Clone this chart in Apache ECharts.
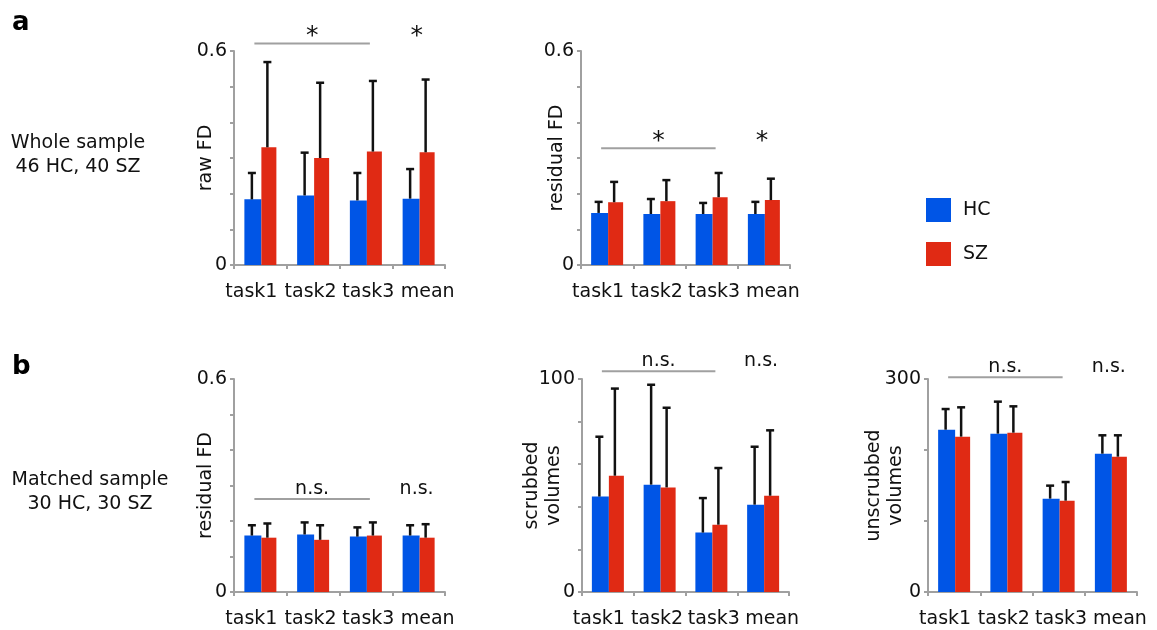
<!DOCTYPE html>
<html><head><meta charset="utf-8">
<script src="https://cdn.jsdelivr.net/npm/echarts@6/dist/echarts.min.js"></script>
<style>html,body{margin:0;padding:0;background:#fff}#c{width:1157px;height:630px}</style>
</head><body><div id="c"></div>
<script>
const categories = ['task1', 'task2', 'task3', 'mean'];

// Panel a1: raw FD (whole sample)
const rawFD_HC = [0.184, 0.195, 0.181, 0.186];
const rawFD_HC_sd = [0.074, 0.120, 0.077, 0.083];
const rawFD_SZ = [0.330, 0.300, 0.318, 0.316];
const rawFD_SZ_sd = [0.239, 0.211, 0.198, 0.204];

// Panel a2: residual FD (whole sample)
const resFDa_HC = [0.146, 0.143, 0.143, 0.143];
const resFDa_HC_sd = [0.031, 0.042, 0.031, 0.034];
const resFDa_SZ = [0.176, 0.179, 0.190, 0.182];
const resFDa_SZ_sd = [0.057, 0.059, 0.068, 0.060];

// Panel b1: residual FD (matched sample)
const resFDb_HC = [0.159, 0.162, 0.156, 0.159];
const resFDb_HC_sd = [0.029, 0.034, 0.026, 0.029];
const resFDb_SZ = [0.153, 0.147, 0.159, 0.153];
const resFDb_SZ_sd = [0.040, 0.041, 0.037, 0.038];

// Panel b2: scrubbed volumes
const scrub_HC = [44.8, 50.4, 27.9, 41.0];
const scrub_HC_sd = [28.1, 46.9, 16.2, 27.2];
const scrub_SZ = [54.6, 49.1, 31.6, 45.2];
const scrub_SZ_sd = [40.9, 37.4, 26.6, 30.7];

// Panel b3: unscrubbed volumes
const unscrub_HC = [228.6, 223.0, 131.5, 194.8];
const unscrub_HC_sd = [29.1, 45.1, 18.3, 25.9];
const unscrub_SZ = [218.8, 224.4, 128.6, 190.6];
const unscrub_SZ_sd = [41.3, 37.1, 26.3, 30.1];

// significance labels
const sigA = ['*', '*'];
const sigB = ['n.s.', 'n.s.'];

const BLUE = '#0055e6', RED = '#e02a14', GREY = '#a0a0a0', TXT = '#111';
const FONT = 'DejaVu Sans';
const FS = 19;

const panels = [
  {grid:{left:234, top:51, width:211, height:214}, max:0.6, interval:0.1, name:'raw FD', nameGap:17,
   hc:rawFD_HC, hcsd:rawFD_HC_sd, sz:rawFD_SZ, szsd:rawFD_SZ_sd, bracket:0.621, sig:sigA},
  {grid:{left:581, top:51, width:209, height:214}, max:0.6, interval:0.1, name:'residual FD', nameGap:13,
   hc:resFDa_HC, hcsd:resFDa_HC_sd, sz:resFDa_SZ, szsd:resFDa_SZ_sd, bracket:0.327, sig:sigA},
  {grid:{left:234, top:379, width:211, height:213}, max:0.6, interval:0.1, name:'residual FD', nameGap:17,
   hc:resFDb_HC, hcsd:resFDb_HC_sd, sz:resFDb_SZ, szsd:resFDb_SZ_sd, bracket:0.262, sig:sigB},
  {grid:{left:582, top:379, width:207, height:213}, max:100, interval:20, name:'scrubbed\nvolumes', nameGap:17,
   hc:scrub_HC, hcsd:scrub_HC_sd, sz:scrub_SZ, szsd:scrub_SZ_sd, bracket:103.6, sig:sigB},
  {grid:{left:928, top:379, width:209, height:213}, max:300, interval:100, name:'unscrubbed\nvolumes', nameGap:21,
   hc:unscrub_HC, hcsd:unscrub_HC_sd, sz:unscrub_SZ, szsd:unscrub_SZ_sd, bracket:302.3, sig:sigB}
];

const HCW = 17, SZW = 15;
const hcOff = -(HCW + SZW) / 2 + HCW / 2 - 1;
const szOff = -(HCW + SZW) / 2 + HCW + SZW / 2 - 1.5;

function errRender(off) {
  return function (params, api) {
    const idx = api.value(0);
    const p0 = api.coord([idx, api.value(1)]);
    const p1 = api.coord([idx, api.value(2)]);
    const x = p0[0] + off;
    const st = {stroke: '#111', lineWidth: 2.5};
    return {type: 'group', children: [
      {type: 'line', shape: {x1: x, y1: p0[1], x2: x, y2: p1[1]}, style: st},
      {type: 'line', shape: {x1: x - 4, y1: p1[1], x2: x + 4, y2: p1[1]}, style: st}
    ]};
  };
}

function annRender(sig) {
  return function (params, api) {
    const v = api.value(1);
    const a = api.coord([0, v]), b = api.coord([2, v]), c = api.coord([3, v]);
    const star = sig[0] === '*';
    const fs = star ? 25 : FS;
    const dy = star ? -7 : -10;
    const mid = (a[0] - 6 + b[0] + 4) / 2;
    return {type: 'group', children: [
      {type: 'line', shape: {x1: a[0] - 6, y1: a[1], x2: b[0] + 4, y2: b[1]}, style: {stroke: GREY, lineWidth: 2}},
      {type: 'text', style: {text: sig[0], x: mid, y: a[1] + dy, align: 'center', verticalAlign: 'middle',
        font: fs + 'px "' + FONT + '"', fill: TXT}},
      {type: 'text', style: {text: sig[1], x: c[0] - 2, y: a[1] + dy, align: 'center', verticalAlign: 'middle',
        font: fs + 'px "' + FONT + '"', fill: TXT}}
    ]};
  };
}

const labelShift = [18, 5, -5, -18];
const rich = {};
labelShift.forEach((s, i) => {
  rich['s' + i] = {fontSize: FS, fontFamily: FONT, color: TXT,
    padding: s > 0 ? [0, s, 0, 0] : [0, 0, 0, -s]};
});

const grid = [], xAxis = [], yAxis = [], series = [];
panels.forEach((p, i) => {
  grid.push(Object.assign({containLabel: false}, p.grid));
  xAxis.push({type: 'category', gridIndex: i, data: categories,
    axisLine: {lineStyle: {color: GREY, width: 2}},
    axisTick: {show: true, length: 4, lineStyle: {color: GREY, width: 2}},
    axisLabel: {interval: 0, margin: 18, fontSize: FS, fontFamily: FONT, color: TXT,
      formatter: (v, idx) => '{s' + idx + '|' + v + '}', rich: rich}});
  yAxis.push({type: 'value', gridIndex: i, min: 0, max: p.max, interval: p.interval,
    name: p.name, nameLocation: 'middle', nameGap: p.nameGap, nameMoveOverlap: false,
    nameTextStyle: {fontSize: FS, fontFamily: FONT, color: TXT, lineHeight: 22},
    splitLine: {show: false},
    axisLine: {show: true, lineStyle: {color: GREY, width: 2}},
    axisTick: {show: true, length: 4, lineStyle: {color: GREY, width: 2}},
    axisLabel: {margin: 7, fontSize: FS, fontFamily: FONT, color: TXT,
      formatter: v => (Math.abs(v) < 1e-9 || Math.abs(v - p.max) < 1e-9) ? String(v) : ''}});
  series.push({type: 'bar', name: 'HC', xAxisIndex: i, yAxisIndex: i, data: p.hc,
    barWidth: HCW, barGap: '0%', itemStyle: {color: BLUE}});
  series.push({type: 'bar', name: 'SZ', xAxisIndex: i, yAxisIndex: i, data: p.sz,
    barWidth: SZW, barGap: '0%', itemStyle: {color: RED}});
  series.push({type: 'custom', xAxisIndex: i, yAxisIndex: i, z: 5,
    data: p.hc.map((v, k) => [k, v, v + p.hcsd[k]]), renderItem: errRender(hcOff)});
  series.push({type: 'custom', xAxisIndex: i, yAxisIndex: i, z: 5,
    data: p.sz.map((v, k) => [k, v, v + p.szsd[k]]), renderItem: errRender(szOff)});
  series.push({type: 'custom', xAxisIndex: i, yAxisIndex: i, z: 5, clip: false,
    data: [[0, p.bracket]], renderItem: annRender(p.sig)});
});

const chart = echarts.init(document.getElementById('c'), null, {renderer: 'canvas'});
chart.setOption({
  animation: false,
  backgroundColor: '#fff',
  grid, xAxis, yAxis, series,
  legend: {data: ['HC', 'SZ'], orient: 'vertical', left: 921, top: 193, itemWidth: 25, itemHeight: 24,
    itemGap: 20, icon: 'rect', selectedMode: false,
    textStyle: {fontSize: FS, fontFamily: FONT, color: TXT, padding: [0, 0, 0, 7]}},
  graphic: [
    {type: 'text', style: {text: 'a', x: 12, y: 23, verticalAlign: 'middle', font: 'bold 26px "' + FONT + '"', fill: '#000'}},
    {type: 'text', style: {text: 'b', x: 12, y: 367, verticalAlign: 'middle', font: 'bold 26px "' + FONT + '"', fill: '#000'}},
    {type: 'text', style: {text: 'Whole sample\n46 HC, 40 SZ', x: 78, y: 155, align: 'center', verticalAlign: 'middle',
      lineHeight: 24, font: FS + 'px "' + FONT + '"', fill: TXT}},
    {type: 'text', style: {text: 'Matched sample\n30 HC, 30 SZ', x: 90, y: 492, align: 'center', verticalAlign: 'middle',
      lineHeight: 24, font: FS + 'px "' + FONT + '"', fill: TXT}}
  ]
});
</script>
</body></html>
